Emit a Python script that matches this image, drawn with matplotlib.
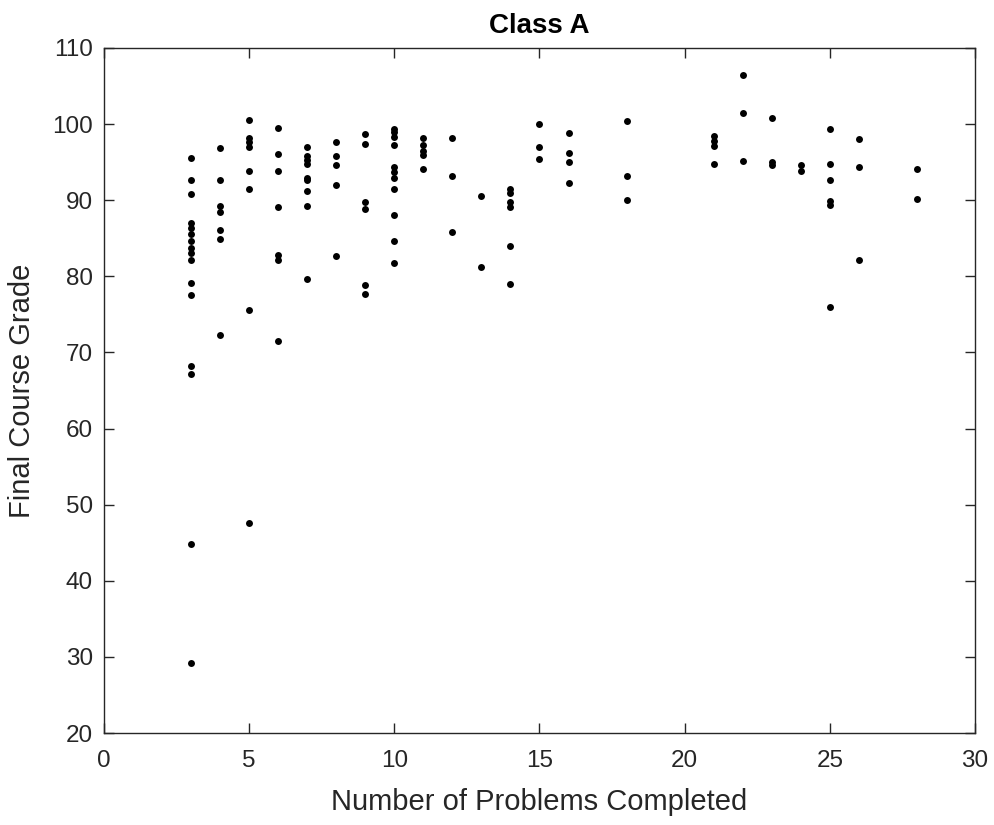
import matplotlib.pyplot as plt
import numpy as np

plt.rcParams['font.family'] = ['Liberation Sans', 'DejaVu Sans']

# problems completed per student
problems = (
    [3] * 16 + [4] * 7 + [5] * 8 + [6] * 7 + [7] * 9 + [8] * 5 + [9] * 6
    + [10] * 11 + [11] * 5 + [12] * 3 + [13] * 2 + [14] * 6 + [15] * 3
    + [16] * 4 + [18] * 3 + [21] * 4 + [22] * 3 + [23] * 3 + [24] * 2
    + [25] * 6 + [26] * 3 + [28] * 2
)

# final course grade per student
grades = [
    # 3
    95.6, 92.6, 90.8, 87.0, 86.3, 85.5, 84.6, 83.7, 83.0, 82.2, 79.1, 77.6,
    68.2, 67.2, 44.8, 29.2,
    # 4
    96.9, 92.6, 89.2, 88.5, 86.1, 84.9, 72.3,
    # 5
    100.5, 98.2, 97.6, 97.0, 93.8, 91.5, 75.6, 47.6,
    # 6
    99.5, 96.1, 93.8, 89.1, 82.8, 82.2, 71.5,
    # 7
    97.0, 95.8, 95.3, 94.8, 92.9, 92.6, 91.2, 89.3, 79.7,
    # 8
    97.6, 95.8, 94.6, 92.0, 82.7,
    # 9
    98.7, 97.4, 89.8, 88.9, 78.8, 77.7,
    # 10
    99.4, 98.9, 98.3, 97.3, 94.4, 93.7, 92.9, 91.5, 88.1, 84.7, 81.7,
    # 11
    98.2, 97.2, 96.5, 95.9, 94.1,
    # 12
    98.2, 93.2, 85.8,
    # 13
    90.6, 81.2,
    # 14
    91.5, 90.9, 89.8, 89.1, 84.0, 79.0,
    # 15
    100.0, 97.0, 95.4,
    # 16
    98.8, 96.2, 95.0, 92.2,
    # 18
    100.4, 93.2, 90.0,
    # 21
    98.5, 97.8, 97.1, 94.8,
    # 22
    106.5, 101.5, 95.1,
    # 23
    100.8, 95.0, 94.6,
    # 24
    94.6, 93.9,
    # 25
    99.4, 94.8, 92.7, 89.9, 89.4, 76.0,
    # 26
    98.0, 94.3, 82.1,
    # 28
    94.1, 90.2,
]

txt = '#262626'
fig = plt.figure(figsize=(9.95, 8.25), dpi=100)
ax = fig.add_axes([104 / 995, 1 - 733 / 825, 871 / 995, 685 / 825])

ax.plot(problems, grades, 'o', color='black', markersize=5, markeredgewidth=0)

ax.set_xlim(0, 30)
ax.set_ylim(20, 110)
ax.set_xticks(np.arange(0, 31, 5))
ax.set_yticks(np.arange(20, 111, 10))
ax.tick_params(direction='in', top=True, right=True, labelsize=17.5,
               colors=txt, length=7, width=1.0)
ax.tick_params(axis='x', pad=12)
ax.tick_params(axis='y', pad=8)
for s in ax.spines.values():
    s.set_color(txt)
    s.set_linewidth(1.0)

ax.set_xlabel('Number of Problems Completed', fontsize=21, color=txt, va='center')
ax.set_ylabel('Final Course Grade', fontsize=21, color=txt, va='center')
ax.xaxis.set_label_coords(0.5, (733 - 802) / 685)
ax.yaxis.set_label_coords((22 - 104) / 871, 0.5)
ax.set_title('Class A', fontsize=20, fontweight='bold', color='black', pad=11)

fig.savefig('out.png', dpi=100)
